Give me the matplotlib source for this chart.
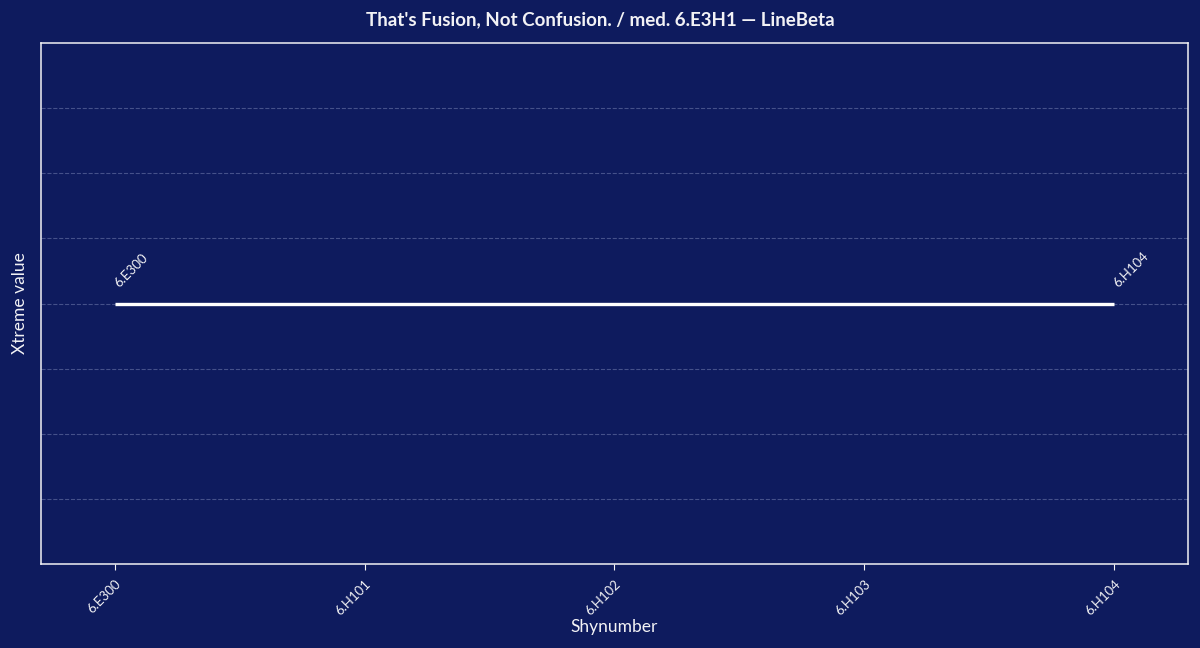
import matplotlib
matplotlib.use("Agg")
import matplotlib.pyplot as plt

# datos
categories = ["6.E300", "6.H101", "6.H102", "6.H103", "6.H104"]
values = [0.0, 0.0, 0.0, 0.0, 0.0]
label_points = [0, 4]

bg = "#0e1b5e"
fg = "#f2f2f5"

plt.rcParams["font.family"] = ["Lato", "DejaVu Sans"]

fig = plt.figure(figsize=(12, 6.48), dpi=100, facecolor=bg)
ax = fig.add_axes([0.034, 0.1296, 0.956, 0.804])
ax.set_facecolor(bg)

x = list(range(len(categories)))
ax.plot(x, values, color="white", linewidth=2.4, solid_capstyle="butt", zorder=3)

for i in label_points:
    ax.annotate(categories[i], (x[i], values[i]), xytext=(4, 10), textcoords="offset points",
                rotation=45, rotation_mode="anchor", ha="left", va="bottom",
                color=fg, fontsize=9.5)

ax.set_xlim(-0.296, 4.296)
ax.set_ylim(-1, 1)
ax.set_yticks([-0.75, -0.5, -0.25, 0, 0.25, 0.5, 0.75])
ax.set_yticklabels([])
ax.tick_params(axis="y", length=0)
ax.grid(axis="y", color="#8a93c0", alpha=0.45, linestyle="--", linewidth=0.8)

ax.set_xticks(x)
ax.set_xticklabels(categories, rotation=45, ha="right", rotation_mode="anchor", fontsize=9.5, color=fg)
ax.tick_params(axis="x", colors=fg, length=4, pad=6)

for s in ax.spines.values():
    s.set_color(fg)
    s.set_linewidth(1.1)

ax.set_xlabel("Shynumber", color=fg, fontsize=12.5, labelpad=1)
ax.set_ylabel("Xtreme value", color=fg, fontsize=12.5, labelpad=6)
fig.suptitle("That's Fusion, Not Confusion. / med. 6.E3H1 \u2014 LineBeta",
             color=fg, fontsize=13.5, fontweight="bold", y=0.983)

fig.savefig("out.png", dpi=100, facecolor=bg)
